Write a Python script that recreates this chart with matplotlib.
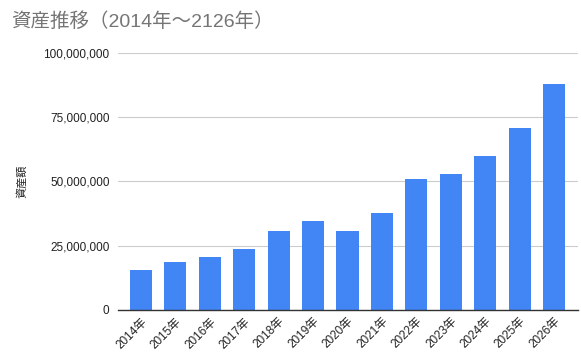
import matplotlib
matplotlib.use("Agg")
import matplotlib.pyplot as plt
from matplotlib.ticker import FuncFormatter

plt.rcParams['font.family'] = ['Liberation Sans', 'Noto Sans CJK JP', 'DejaVu Sans']

years = ['2014年', '2015年', '2016年', '2017年', '2018年', '2019年', '2020年',
         '2021年', '2022年', '2023年', '2024年', '2025年', '2026年']
assets = [15.5e6, 18.7e6, 20.6e6, 23.7e6, 30.7e6, 34.6e6, 30.7e6,
          37.7e6, 50.9e6, 52.8e6, 59.8e6, 70.7e6, 87.8e6]
yticks = [0, 25e6, 50e6, 75e6, 100e6]

fig = plt.figure(figsize=(5.81, 3.6), dpi=100)
ax = fig.add_axes([0.203, 0.139, 0.792, 0.714])

x = range(len(years))
ax.bar(x, assets, width=0.64, color='#4285F4', zorder=3)

ax.set_ylim(0, 100e6)
ax.set_xlim(-0.67, len(years) - 0.3)
ax.set_yticks(yticks)
ax.yaxis.set_major_formatter(FuncFormatter(lambda v, p: '{:,.0f}'.format(v)))
ax.grid(axis='y', color='#cccccc', linewidth=0.8, zorder=0)

ax.set_xticks(list(x))
ax.set_xticklabels(years, rotation=45, ha='right', rotation_mode='anchor')
ax.tick_params(axis='both', length=0, labelsize=8.5, colors='#222222')
ax.tick_params(axis='x', pad=4)
ax.tick_params(axis='y', pad=6)

for s in ['top', 'right', 'left']:
    ax.spines[s].set_visible(False)
ax.spines['bottom'].set_color('#333333')
ax.spines['bottom'].set_linewidth(1.0)
ax.spines['bottom'].set_zorder(4)

ax.set_ylabel('資産額', fontsize=8, color='#222222', labelpad=12)

fig.text(0.02, 0.94, '資産推移（2014年〜2126年）', fontsize=14, color='#757575', va='center')

fig.savefig('out.png', dpi=100)
